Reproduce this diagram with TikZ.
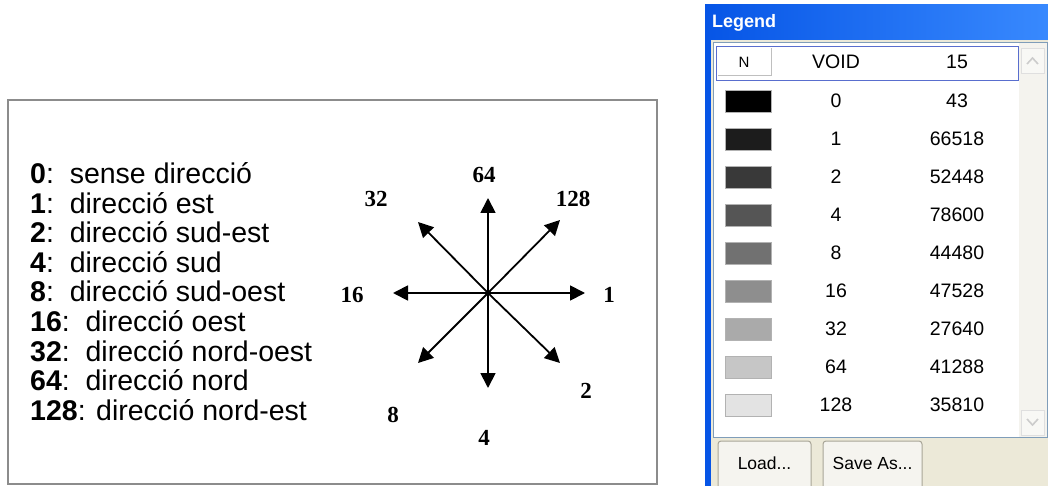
\documentclass[tikz,border=0pt]{standalone}
\usepackage{fontspec}
\setmainfont{Liberation Sans}
\newfontfamily\serifdigits{Liberation Serif}
\usepackage{xcolor}
\usetikzlibrary{arrows.meta, positioning, calc}
\definecolor{xpblue}{HTML}{0655E6}
\definecolor{xpblueL}{HTML}{3A8BFF}
\definecolor{xpbeige}{HTML}{ECE9D8}
\definecolor{xptrack}{HTML}{F4F3EE}
\definecolor{xpframe}{HTML}{7F9DB9}
\definecolor{xpbtn}{HTML}{F5F4EF}
\definecolor{xpbtnedge}{HTML}{A8A597}

\begin{document}
\begin{tikzpicture}[
    x=1pt, y=-1pt,
    item/.style={anchor=base west, inner sep=0pt, font=\fontsize{28.5}{28.5}\selectfont},
    dirlabel/.style={font=\serifdigits\bfseries\fontsize{23}{23}\selectfont, inner sep=0pt},
    arrow/.style={-{Triangle[length=15pt, width=15pt]}, line width=1.8pt},
    cell/.style={inner sep=0pt, font=\fontsize{19.5}{19.5}\selectfont},
    swatch/.style={draw=gray!60, line width=0.8pt, minimum width=46pt, minimum height=22pt, inner sep=0pt},
    xpbutton/.style={draw=xpbtnedge, fill=xpbtn, rounded corners=3pt, line width=1pt},
    scrollbtn/.style={draw=gray!25, fill=xptrack!60!white, line width=0.8pt},
]
\useasboundingbox (0,0) rectangle (1048,486);
\clip (0,0) rectangle (1048,486);
\fill[white] (0,0) rectangle (1048,486);

% Frame of the code list
\draw[gray!90, line width=1.8pt] (8,100) rectangle (657,484);

% Code list
\foreach \i/\code/\txt in {0/0/{\ \ sense direcció}, 1/1/{\ \ direcció est}, 2/2/{\ \ direcció sud-est},
    3/4/{\ \ direcció sud}, 4/8/{\ \ direcció sud-oest}, 5/16/{\ \ direcció oest},
    6/32/{\ \ direcció nord-oest}, 7/64/{\ \ direcció nord}, 8/128/{ direcció nord-est}}
  \node[item] (item\code) at (30,{183.5+29.6*\i}) {\textbf{\code}:\txt};

% Compass
\coordinate (ctr) at (488,293);
\foreach \code/\dx/\dy in {1/97/0, 2/72/70, 4/0/95, 8/-70/70, 16/-95/0, 32/-70/-71, 64/0/-95, 128/72/-73}
  \coordinate (tip\code) at ($(ctr)+(\dx,\dy)$);
\foreach \code in {1,2,4,8,16,32,64,128}
  \draw[arrow] (ctr) -- (tip\code);

% Direction labels
\node[dirlabel] (lab64) at (484,175) {64};
\node[dirlabel] (lab128) at (573,199) {128};
\node[dirlabel] (lab1) at (609,295) {1};
\node[dirlabel] (lab2) at (586,391) {2};
\node[dirlabel] (lab4) at (484,438) {4};
\node[dirlabel] (lab8) at (393,415) {8};
\node[dirlabel] (lab16) at (352,295) {16};
\node[dirlabel] (lab32) at (376,199) {32};

% Legend window
\fill[xpblue] (705,5) rectangle (1060,500);
\shade[left color=xpblue, right color=xpblueL] (705,5) rectangle (1060,40);
\fill[xpbeige] (711,40) rectangle (1060,500);
\node[anchor=west, text=white, font=\bfseries\fontsize{18}{18}\selectfont, inner sep=0pt] (title) at (712,23) {Legend};

% List box and scroll bar
\draw[xpframe, fill=white, line width=1pt] (713.5,42.5) rectangle (1047,437);
\fill[xptrack] (1019,43) rectangle (1046.5,436.5);
\draw[scrollbtn] (1021,48) rectangle (1044,73);
\draw[gray!40, line width=1.6pt] (1027,64) -- (1032.5,58) -- (1038,64);
\draw[scrollbtn] (1021,410) rectangle (1044,435);
\draw[gray!40, line width=1.6pt] (1027,419) -- (1032.5,425) -- (1038,419);

% Header row
\draw[xpframe!70!blue, line width=0.8pt] (716,46) rectangle (1018,80);
\draw[gray!50, line width=1pt] (718,76) -- (771,76) -- (771,48);
\node[cell, font=\fontsize{15}{15}\selectfont] (hdrN) at (744,62) {N};
\node[cell] (hdrvoid) at (836,62) {VOID};
\node[cell] (hdrcount) at (957,62) {15};

% Rows
\foreach \i/\code/\count in {0/0/43, 1/1/66518, 2/2/52448, 3/4/78600, 4/8/44480,
    5/16/47528, 6/32/27640, 7/64/41288, 8/128/35810}{
  \pgfmathtruncatemacro{\shade}{round(255*\i/9)}
  \definecolor{sw}{RGB}{\shade,\shade,\shade}
  \node[swatch, fill=sw] (sw\code) at (748,{101+38*\i}) {};
  \node[cell] (val\code) at (836,{101+38*\i}) {\code};
  \node[cell] (cnt\code) at (957,{101+38*\i}) {\count};
}

% Buttons
\draw[xpbutton] (718,441) rectangle (811,495);
\node[cell, font=\fontsize{17.5}{17.5}\selectfont] (load) at (764.5,463) {Load...};
\draw[xpbutton] (823,441) rectangle (922,495);
\node[cell, font=\fontsize{17.5}{17.5}\selectfont] (saveas) at (872.5,463) {Save As...};

\end{tikzpicture}
\end{document}
